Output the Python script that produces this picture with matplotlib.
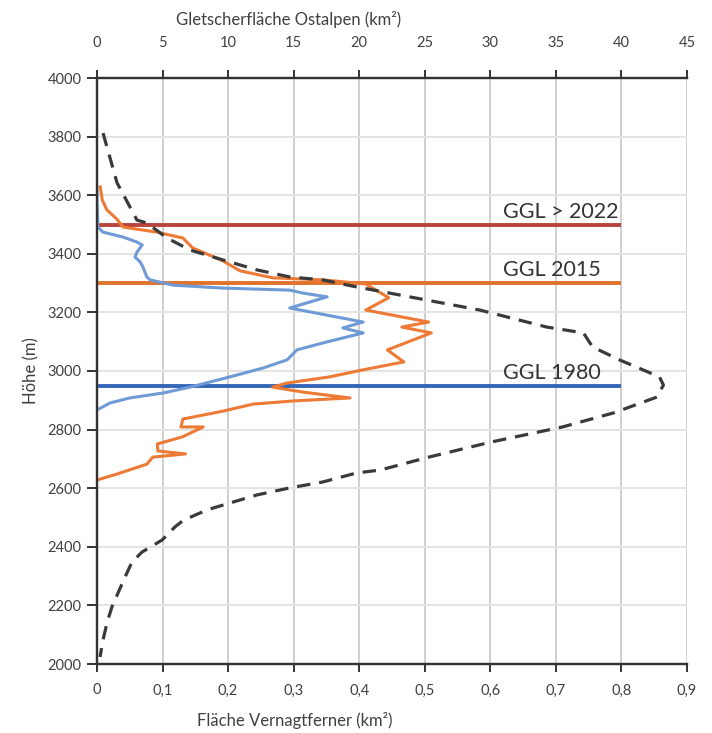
import matplotlib
matplotlib.use("Agg")
import matplotlib.pyplot as plt

plt.rcParams['font.family'] = ['Lato', 'DejaVu Sans']

# Gletscherfläche Ostalpen (km², top axis) vs Höhe
ost_h = [3812, 3642, 3515, 3505, 3454, 3413, 3379, 3345, 3321, 3311, 3287, 3266,
         3208, 3150, 3130, 3082, 3037, 2980, 2952, 2911, 2857, 2809, 2758, 2706,
         2662, 2652, 2621, 2601, 2577, 2549, 2526, 2491, 2468, 2423, 2382, 2348,
         2297, 2242, 2195, 2140, 2082, 2024]
ost_a = [0.46, 1.53, 3.05, 3.81, 5.34, 7.09, 9.61, 12.2, 14.7, 17.2, 19.8, 22.3,
         29.2, 34.3, 37.1, 37.8, 39.9, 42.9, 43.2, 42.7, 39.4, 35.5, 30.1, 25.3,
         21.6, 19.8, 17.2, 14.7, 12.2, 10.1, 8.4, 6.6, 5.95, 4.96, 3.43, 2.67,
         2.14, 1.60, 1.14, 0.76, 0.46, 0.23]

# Vernagtferner 1980 (blue), km² bottom axis
blue_h = [3628, 3584, 3491, 3474, 3457, 3440, 3430, 3406, 3389, 3372, 3355, 3321,
          3311, 3293, 3283, 3276, 3266, 3253, 3215, 3167, 3147, 3130, 3096, 3072,
          3038, 3010, 2980, 2945, 2925, 2908, 2891, 2867]
blue_a = [0.0, 0.0, 0.0015, 0.009, 0.04, 0.061, 0.069, 0.061, 0.058, 0.066, 0.070, 0.076,
          0.081, 0.116, 0.192, 0.294, 0.314, 0.351, 0.294, 0.406, 0.375, 0.406, 0.345, 0.305,
          0.290, 0.253, 0.203, 0.142, 0.101, 0.050, 0.020, 0.0]

# Vernagtferner (orange)
orange_h = [3628, 3584, 3550, 3519, 3491, 3474, 3454, 3420, 3376, 3342, 3318, 3311,
            3297, 3250, 3208, 3167, 3150, 3130, 3072, 3031, 3004, 2980, 2959, 2945,
            2928, 2908, 2898, 2887, 2863, 2836, 2809, 2809, 2775, 2751, 2727, 2717,
            2706, 2682, 2648, 2628]
orange_a = [0.005, 0.008, 0.015, 0.03, 0.04, 0.091, 0.131, 0.146, 0.192, 0.218, 0.268, 0.345,
            0.41, 0.445, 0.41, 0.506, 0.465, 0.51, 0.443, 0.468, 0.406, 0.355, 0.29, 0.268,
            0.314, 0.386, 0.301, 0.238, 0.192, 0.131, 0.128, 0.162, 0.13, 0.092, 0.093, 0.135,
            0.085, 0.076, 0.03, 0.0]

ggl_h = [3500, 3300, 2950]
ggl_labels = ["GGL > 2022", "GGL 2015", "GGL 1980"]
ggl_colors = ["#b8423c", "#e0722c", "#3566b8"]
ggl_x = [0.0, 0.8]

bottom_ticks = [0, 0.1, 0.2, 0.3, 0.4, 0.5, 0.6, 0.7, 0.8, 0.9]
bottom_labels = ["0", "0,1", "0,2", "0,3", "0,4", "0,5", "0,6", "0,7", "0,8", "0,9"]
top_ticks = [0, 5, 10, 15, 20, 25, 30, 35, 40, 45]
y_ticks = list(range(2000, 4001, 200))

fig = plt.figure(figsize=(7.12, 7.33), dpi=100)
ax = fig.add_axes([97/712, 1-664/733, 590/712, 586/733])
ax.set_xlim(0, 0.9)
ax.set_ylim(2000, 4000)
ax.set_xticks(bottom_ticks)
ax.set_xticklabels(bottom_labels)
ax.set_yticks(y_ticks)

ax.xaxis.grid(True, color="#cfcfcf", lw=1.4)
ax.yaxis.grid(True, color="#e4e4e4", lw=1.4)
ax.set_axisbelow(True)
ax.spines["right"].set_visible(False)
for s in ["left", "bottom", "top"]:
    ax.spines[s].set_color("#333333")
    ax.spines[s].set_linewidth(1.6)
ax.tick_params(axis='both', colors="#333333", labelcolor="#404040", labelsize=10.5, width=1.4)
ax.tick_params(axis='x', direction='out', length=6, pad=8)
ax.tick_params(axis='y', direction='out', length=7, pad=4)

ax.set_ylabel("Höhe (m)", fontsize=12, color="#404040", labelpad=6)
ax.set_xlabel("Fläche Vernagtferner (km²)", fontsize=12, color="#404040", labelpad=8)
ax.xaxis.set_label_coords(0.335, -0.082)

for h, lab, c in zip(ggl_h, ggl_labels, ggl_colors):
    ax.plot(ggl_x, [h, h], color=c, lw=2.8, solid_capstyle='butt', zorder=3)
    ax.text(0.619, h + 10, lab, fontsize=15.5, color="#333333", ha='left', va='bottom', zorder=5)

ax.plot(blue_a, blue_h, color="#6f9ad6", lw=2.2, zorder=4)
ax.plot(orange_a, orange_h, color="#ed7a35", lw=2.2, zorder=4)

ax2 = ax.twiny()
ax2.set_xlim(0, 45)
ax2.set_xticks(top_ticks)
ax2.spines["right"].set_visible(False)
for s in ["left", "bottom", "top"]:
    ax2.spines[s].set_color("#333333")
    ax2.spines[s].set_linewidth(1.6)
ax2.tick_params(axis='x', direction='out', length=6, width=1.4, colors="#333333",
                labelcolor="#404040", labelsize=10.5, pad=14)
ax2.set_xlabel("Gletscherfläche Ostalpen (km²)", fontsize=12, color="#404040", labelpad=8)
ax2.xaxis.set_label_coords(0.325, 1.09)
ax2.plot(ost_a, ost_h, color="#3a3a3a", lw=2.3, ls=(0, (4.2, 2.8)), zorder=5)

fig.savefig("out.png", dpi=100)
